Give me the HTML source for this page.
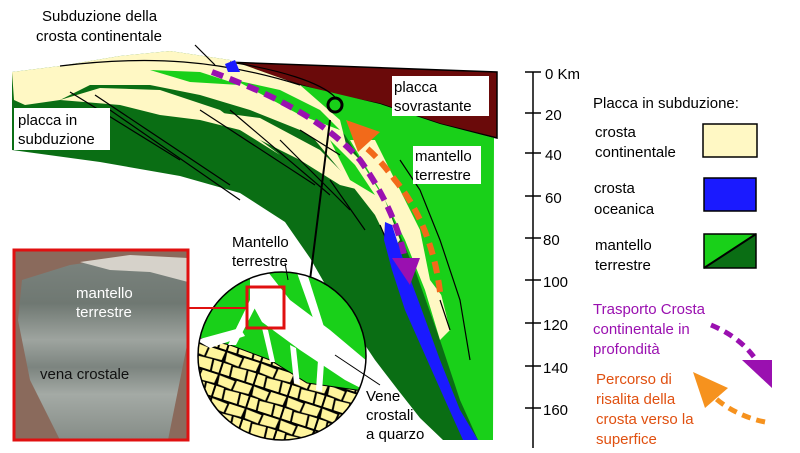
<!DOCTYPE html>
<html><head><style>
html,body{margin:0;padding:0;background:#fff;}
svg{display:block;}
text{font-family:"Liberation Sans",sans-serif;}
</style></head><body>
<svg width="800" height="453" viewBox="0 0 800 453" xmlns="http://www.w3.org/2000/svg">
<defs>
<pattern id="cob" width="36" height="24" patternUnits="userSpaceOnUse" patternTransform="rotate(18)">
<rect width="36" height="24" fill="#000"/>
<polygon points="1,1 17,2 16,11 2,10" fill="#fff59d"/>
<polygon points="19,1 35,1 34,10 18,11" fill="#fff59d"/>
<polygon points="1,12 9,12 10,23 1,23" fill="#fff59d"/>
<polygon points="11,13 25,12 26,23 12,23" fill="#fff59d"/>
<polygon points="27,12 35,12 35,23 28,23" fill="#fff59d"/>
</pattern>
<clipPath id="cc"><circle cx="282" cy="356" r="84"/></clipPath>
<linearGradient id="rock" x1="0" y1="0" x2="0" y2="1">
<stop offset="0" stop-color="#7b837e"/><stop offset="0.25" stop-color="#6f7872"/><stop offset="0.45" stop-color="#9ea49f"/><stop offset="0.6" stop-color="#7c847f"/><stop offset="0.75" stop-color="#a4aaa5"/><stop offset="1" stop-color="#858c87"/>
</linearGradient>
</defs>
<!-- maroon overriding plate -->
<polygon points="225,62 497,72 497,138 440,124 380,104 330,94" fill="#6a0a0a" stroke="#000" stroke-width="1.5"/>
<!-- light green mantle wedge -->
<polygon points="300,85 380,104 440,124 494,138 493,440 470,440 450,380 430,320 405,260 370,190 340,140" fill="#19d019"/>
<!-- dark green slab -->
<path d="M12,72 L60,66 L120,56 L170,51 L230,60 L300,85 L345,135 L385,200 L415,270 L440,340 L460,400 L478,440 L443,440 L420,418 L398,390 L375,360 L355,330 L333,298 L310,258 L285,222 L240,193 L180,176 L100,162 L12,150 Z" fill="#0a6e14"/>
<!-- cream crust bands -->
<path d="M12,72 L60,66 L120,56 L170,51 L230,60 L300,85 L340,120 L350,160 L300,130 L250,110 L200,95 L150,85 L90,85 L60,100 L25,105 L14,100 Z" fill="#fff8c4"/>
<path d="M60,100 L100,88 L160,90 L220,110 L260,140 L280,155 L240,130 L200,120 L160,115 L120,105 Z" fill="#fff8c4"/>
<path d="M200,110 L260,118 L320,150 L360,190 L340,185 L300,160 L250,135 Z" fill="#fff8c4"/>
<path d="M290,110 L330,130 L360,160 L385,200 L400,240 L392,250 L375,215 L340,170 Z" fill="#fff8c4"/>
<path d="M350,140 L375,140 L395,180 L420,230 L440,290 L450,330 L440,340 L425,290 L405,240 L380,190 Z" fill="#fff8c4"/>
<path d="M235,80 L280,90 L320,110 L340,130 L300,115 Z" fill="#19d019"/>
<path d="M150,70 L200,72 L240,85 L190,82 Z" fill="#19d019"/>
<path d="M330,140 L355,165 L375,195 L350,180 Z" fill="#19d019"/>
<path d="M420,230 L440,260 L445,300 L430,280 Z" fill="#19d019"/>
<!-- black thin lines -->
<g stroke="#000" stroke-width="1.2" fill="none">
<path d="M60,66 C150,55 220,60 300,85"/>
<path d="M70,92 L180,160"/><path d="M95,95 L230,185"/><path d="M110,110 L240,200"/>
<path d="M200,110 L315,185"/><path d="M230,110 L330,195"/><path d="M280,140 L350,210"/>
<path d="M300,130 L340,155"/><path d="M330,180 L365,230"/>
<path d="M400,160 L420,190 L440,240 L460,300 L470,360"/>
<path d="M380,225 L395,260 L410,300 L428,340 L445,390"/>
<path d="M440,300 L450,330"/>
<path d="M195,45 L215,65"/>
<path d="M230,62 C280,70 320,82 335,97"/>
</g>
<!-- blue oceanic crust -->
<path d="M225,64 L235,60 L240,72 L228,72 Z" fill="#1a1aff"/>
<path d="M385,222 L392,225 L405,265 L420,305 L440,360 L460,410 L478,440 L463,440 L445,400 L425,355 L405,310 L392,270 L384,240 Z" fill="#1a1aff"/>
<!-- purple dashed path -->
<path d="M212,72 C260,90 320,115 360,160 C385,195 400,230 405,260" fill="none" stroke="#9a10b0" stroke-width="6" stroke-dasharray="12,7"/>
<polygon points="392,258 420,258 410,285" fill="#9a10b0"/>
<!-- orange dashed path -->
<path d="M440,292 C435,250 420,210 395,180 C380,160 370,150 360,143" fill="none" stroke="#f26a1a" stroke-width="6" stroke-dasharray="12,7"/>
<polygon points="346,120 380,132 358,152" fill="#f26a1a"/>
<!-- small circle & connector -->
<circle cx="335" cy="105" r="7" fill="none" stroke="#000" stroke-width="3"/>
<line x1="330" y1="120" x2="310" y2="280" stroke="#000" stroke-width="2"/>
<!-- big circle -->
<g clip-path="url(#cc)">
<rect x="196" y="270" width="175" height="175" fill="#19d019"/>
<polygon points="190,336 230,345 270,360 307,383 370,392 370,445 190,445" fill="url(#cob)"/>
<path d="M190,336 L230,345 L270,360 L307,383 L370,392" fill="none" stroke="#000" stroke-width="1"/>
<g fill="#fff">
<polygon points="250,272 268,272 290,300 330,330 380,372 380,398 345,380 300,350 262,322 250,300"/>
<polygon points="296,270 306,270 325,330 318,332"/>
<polygon points="196,340 240,328 245,336 210,348"/>
<polygon points="250,300 258,302 236,345 228,345"/>
<polygon points="262,328 268,330 275,362 270,362"/>
<polygon points="290,345 296,348 300,385 294,383"/>
<polygon points="318,360 324,363 322,392 316,390"/>
</g>
</g>
<circle cx="282" cy="356" r="84" fill="none" stroke="#000" stroke-width="1.5"/>
<line x1="335" y1="355" x2="380" y2="385" stroke="#000" stroke-width="1"/>
<line x1="285" y1="263" x2="288" y2="280" stroke="#000" stroke-width="1"/>
<!-- red square + connector -->
<rect x="247" y="287" width="37" height="41" fill="none" stroke="#e01010" stroke-width="3"/>
<line x1="188" y1="308" x2="247" y2="308" stroke="#e01010" stroke-width="2"/>
<!-- photo -->
<rect x="14" y="250" width="174" height="190" fill="#8a6a5c"/>
<polygon points="22,280 70,265 120,258 188,262 188,340 168,440 60,440 30,380 18,320" fill="url(#rock)"/>
<polygon points="80,262 130,255 188,258 188,282 150,272 110,270" fill="#d6d2ca"/>
<rect x="14" y="250" width="174" height="190" fill="none" stroke="#e01010" stroke-width="3"/>
<text x="76" y="298" font-size="15" fill="#fff">mantello</text>
<text x="76" y="317" font-size="15" fill="#fff">terrestre</text>
<text x="40" y="379" font-size="15" fill="#111">vena crostale</text>
<!-- labels on diagram -->
<text x="42" y="21" font-size="15">Subduzione della</text>
<text x="36" y="41" font-size="15">crosta continentale</text>
<rect x="14" y="108" width="96" height="42" fill="#fff"/>
<text x="18" y="125" font-size="15">placca in</text>
<text x="18" y="144" font-size="15">subduzione</text>
<rect x="392" y="76" width="97" height="40" fill="#fff"/>
<text x="394" y="92" font-size="15">placca</text>
<text x="394" y="111" font-size="15">sovrastante</text>
<rect x="413" y="146" width="68" height="38" fill="#fff"/>
<text x="415" y="161" font-size="15">mantello</text>
<text x="415" y="180" font-size="15">terrestre</text>
<text x="232" y="247" font-size="15">Mantello</text>
<text x="232" y="266" font-size="15">terrestre</text>
<text x="366" y="401" font-size="15">Vene</text>
<text x="366" y="420" font-size="15">crostali</text>
<text x="366" y="439" font-size="15">a quarzo</text>
<!-- scale -->
<g stroke="#000" stroke-width="1.5">
<line x1="533" y1="72" x2="533" y2="448"/>
<line x1="525" y1="72" x2="541" y2="72"/><line x1="525" y1="113" x2="541" y2="113"/>
<line x1="525" y1="153" x2="541" y2="153"/><line x1="525" y1="196" x2="541" y2="196"/>
<line x1="525" y1="238" x2="541" y2="238"/><line x1="525" y1="280" x2="541" y2="280"/>
<line x1="525" y1="323" x2="541" y2="323"/><line x1="525" y1="366" x2="541" y2="366"/>
<line x1="525" y1="408" x2="541" y2="408"/>
</g>
<g font-size="15">
<text x="545" y="79">0 Km</text><text x="545" y="120">20</text><text x="545" y="160">40</text>
<text x="545" y="203">60</text><text x="543" y="245">80</text><text x="543" y="287">100</text>
<text x="543" y="330">120</text><text x="543" y="373">140</text><text x="543" y="415">160</text>
</g>
<!-- legend -->
<text x="593" y="108" font-size="15">Placca in subduzione:</text>
<text x="595" y="137" font-size="15">crosta</text><text x="595" y="157" font-size="15">continentale</text>
<text x="594" y="193" font-size="15">crosta</text><text x="594" y="214" font-size="15">oceanica</text>
<text x="595" y="250" font-size="15">mantello</text><text x="595" y="270" font-size="15">terrestre</text>
<rect x="703" y="124" width="54" height="33" fill="#fff8c4" stroke="#000" stroke-width="1.5"/>
<rect x="704" y="178" width="52" height="33" fill="#1a1aff" stroke="#000" stroke-width="1.5"/>
<polygon points="704,234 756,234 704,268" fill="#19d019"/>
<polygon points="756,234 756,268 704,268" fill="#0a6e14"/>
<rect x="704" y="234" width="52" height="34" fill="none" stroke="#000" stroke-width="1.5"/>
<line x1="704" y1="268" x2="756" y2="234" stroke="#000" stroke-width="2"/>
<g font-size="15" fill="#9a10b0">
<text x="593" y="314">Trasporto Crosta</text><text x="593" y="334">continentale in</text><text x="593" y="354">profondità</text>
</g>
<g font-size="15" fill="#e05010">
<text x="596" y="384">Percorso di</text><text x="596" y="404">risalita della</text><text x="596" y="424">crosta verso la</text><text x="596" y="444">superfice</text>
</g>
<path d="M711,325 C735,335 752,350 762,370" fill="none" stroke="#9a10b0" stroke-width="5" stroke-dasharray="9,6"/>
<polygon points="742,360 772,360 772,388" fill="#9a10b0"/>
<path d="M765,422 C745,418 725,408 712,395" fill="none" stroke="#f6921e" stroke-width="5" stroke-dasharray="9,6"/>
<polygon points="693,372 728,388 705,408" fill="#f6921e"/>
</svg>
</body></html>
